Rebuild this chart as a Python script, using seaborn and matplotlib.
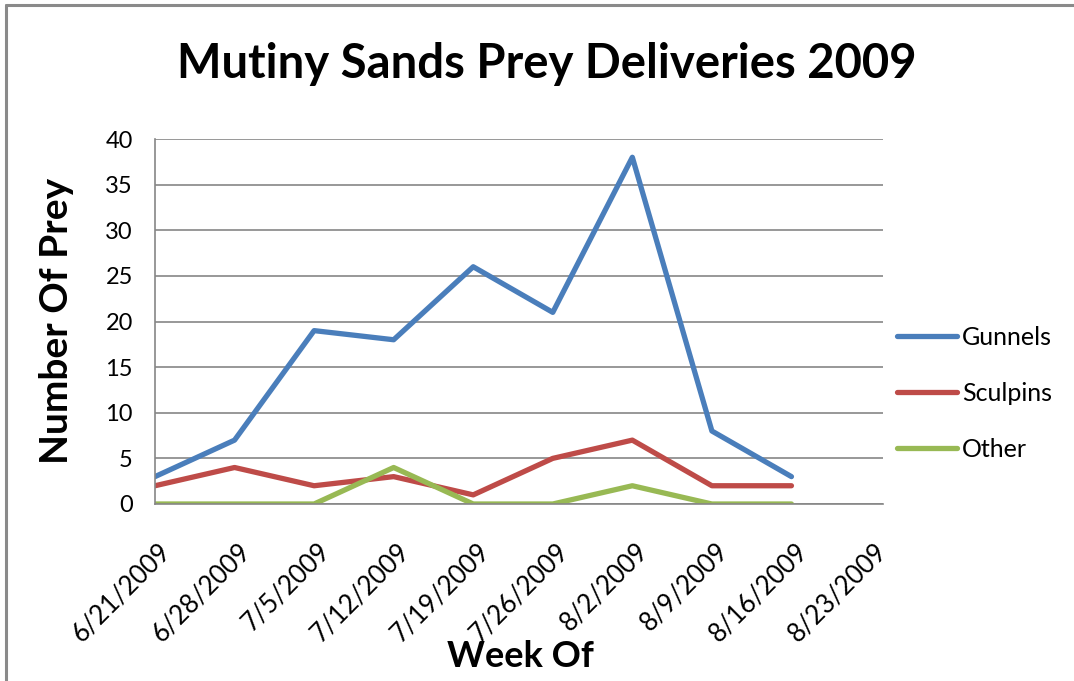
import pandas as pd
import matplotlib
matplotlib.use("Agg")
import matplotlib.pyplot as plt
import matplotlib.transforms as mtransforms
from matplotlib.lines import Line2D
import seaborn as sns

# -------------------------------------------------------------------
# Data
# -------------------------------------------------------------------

weeks = ["6/21/2009", "6/28/2009", "7/5/2009", "7/12/2009", "7/19/2009",
         "7/26/2009", "8/2/2009", "8/9/2009", "8/16/2009", "8/23/2009"]

gunnels = [3, 7, 19, 18, 26, 21, 38, 8, 3]
sculpins = [2, 4, 2, 3, 1, 5, 7, 2, 2]
other = [0, 0, 0, 4, 0, 0, 2, 0, 0]

series = {"Gunnels": gunnels, "Sculpins": sculpins, "Other": other}
colors = {"Gunnels": "#4A7EBB", "Sculpins": "#BE4B48", "Other": "#98B954"}

rows = []
for name, vals in series.items():
    for i, v in enumerate(vals):
        rows.append({"pos": i, "week": weeks[i], "value": v, "series": name})
df = pd.DataFrame(rows)

# -------------------------------------------------------------------
# Plot
# -------------------------------------------------------------------

sns.set_style("white")
plt.rcParams["font.family"] = ["Lato", "DejaVu Sans"]
plt.rcParams["text.color"] = "black"

GRID = "#868686"

fig = plt.figure(figsize=(10.74, 6.81), dpi=100)
ax = fig.add_axes([155 / 1074, 1 - 504 / 681, (883 - 155) / 1074, (504 - 139) / 681])

sns.lineplot(data=df, x="pos", y="value", hue="series", palette=colors,
             linewidth=3.8, ax=ax, legend=False, solid_capstyle="round")

ax.set_xlim(0, len(weeks) - 1 + 12 / 79.6)
ax.set_ylim(0, 40)
ax.set_yticks(range(0, 41, 5))
ax.set_xticks(range(len(weeks)))
ax.set_xticklabels(weeks)
ax.set_xlabel("")
ax.set_ylabel("")

ax.yaxis.grid(True, color=GRID, linewidth=1.2)
ax.set_axisbelow(True)
for s in ["top", "right"]:
    ax.spines[s].set_visible(False)
for s in ["left", "bottom"]:
    ax.spines[s].set_color(GRID)
    ax.spines[s].set_linewidth(1.2)

ax.tick_params(axis="both", which="major", length=7, width=1.2, color=GRID,
               direction="out", labelsize=17, labelcolor="black")
ax.tick_params(axis="y", pad=9)
ax.tick_params(axis="x", pad=24, labelsize=18.5)

# rotated date labels, right end slightly to the right of each tick
offset = mtransforms.ScaledTranslation(12 / 100, 0, fig.dpi_scale_trans)
for lbl in ax.get_xticklabels():
    lbl.set_rotation(45)
    lbl.set_ha("right")
    lbl.set_va("center")
    lbl.set_rotation_mode("anchor")
    lbl.set_transform(lbl.get_transform() + offset)

# Titles
fig.text(547 / 1074, 1 - 78 / 681, "Mutiny Sands Prey Deliveries 2009",
         ha="center", va="baseline", fontsize=34, fontweight="bold")
fig.text(57 / 1074, 1 - 321 / 681, "Number Of Prey", rotation=90,
         ha="center", va="center", fontsize=28, fontweight="bold")
fig.text(520 / 1074, 1 - 667 / 681, "Week Of",
         ha="center", va="baseline", fontsize=26, fontweight="bold")

# Legend
handles = [Line2D([0], [0], color=colors[n], linewidth=3.8, solid_capstyle="round")
           for n in series]
fig.legend(handles, list(series.keys()), loc="center left",
           bbox_to_anchor=(887 / 1074, 1 - 393 / 681), frameon=False,
           borderaxespad=0, fontsize=18, handlelength=2.4, handletextpad=0.2,
           labelspacing=1.32)

# Chart border (top and left edges only)
fig.add_artist(Line2D([6 / 1074, 6 / 1074], [0, 1 - 5 / 681], transform=fig.transFigure,
                      color="#8a8a8a", linewidth=2.2))
fig.add_artist(Line2D([6 / 1074, 1], [1 - 5 / 681, 1 - 5 / 681], transform=fig.transFigure,
                      color="#8a8a8a", linewidth=2.2))

fig.savefig("out.png", dpi=100)
